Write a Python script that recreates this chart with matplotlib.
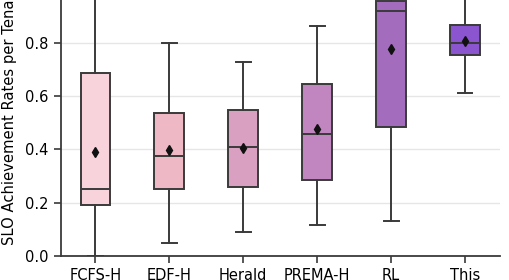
import matplotlib.pyplot as plt

labels = ["FCFS-H", "EDF-H", "Herald", "PREMA-H", "RL", "This"]
whislo = [0.0, 0.049, 0.089, 0.116, 0.132, 0.61]
q1 = [0.19, 0.25, 0.26, 0.286, 0.483, 0.755]
med = [0.251, 0.376, 0.409, 0.459, 0.919, 0.80]
q3 = [0.686, 0.538, 0.547, 0.644, 0.957, 0.867]
whishi = [1.0, 0.80, 0.728, 0.864, 1.0, 1.0]
means = [0.389, 0.397, 0.406, 0.477, 0.777, 0.806]
colors = ["#f9d3dc", "#eeb8c4", "#d9a0c1", "#c185bf", "#a46cbd", "#8a55cf"]

stats = []
for i in range(len(labels)):
    stats.append(dict(label=labels[i], whislo=whislo[i], q1=q1[i], med=med[i],
                      q3=q3[i], whishi=whishi[i], mean=means[i], fliers=[]))

fig = plt.figure(figsize=(5.09, 2.8), dpi=100)
ax = fig.add_axes([0.119, 0.0857, 0.863, 0.952])

edge = "#3a3a3a"
bp = ax.bxp(stats, positions=range(len(labels)), widths=0.4, patch_artist=True,
            showmeans=True,
            boxprops=dict(edgecolor=edge, linewidth=1.4),
            medianprops=dict(color=edge, linewidth=1.4),
            whiskerprops=dict(color=edge, linewidth=1.4),
            capprops=dict(color=edge, linewidth=1.4),
            meanprops=dict(marker="d", markerfacecolor="#111111",
                           markeredgecolor="#111111", markersize=5.5))
for patch, c in zip(bp["boxes"], colors):
    patch.set_facecolor(c)

ax.set_xlim(-0.47, 5.47)
ax.set_ylim(0, 1.0)
ax.set_yticks([0.0, 0.2, 0.4, 0.6, 0.8, 1.0])
ax.set_yticklabels(["0.0", "0.2", "0.4", "0.6", "0.8", "1.0"])
ax.set_xticks(range(len(labels)))
ax.set_xticklabels(labels)
ax.tick_params(labelsize=10.5, color=edge, width=1.2, length=5)
ax.yaxis.grid(True, color="#e6e6e6", linewidth=1)
ax.set_axisbelow(True)
ax.set_ylabel("SLO Achievement Rates per Tenant", fontsize=10.6, labelpad=5)
ax.yaxis.set_label_coords(-0.1, 0.53)
ax.spines["right"].set_visible(False)
ax.spines["top"].set_visible(False)
ax.spines["left"].set_color(edge)
ax.spines["bottom"].set_color(edge)
ax.spines["left"].set_linewidth(1.3)
ax.spines["bottom"].set_linewidth(1.3)

fig.savefig("out.png", dpi=100)
